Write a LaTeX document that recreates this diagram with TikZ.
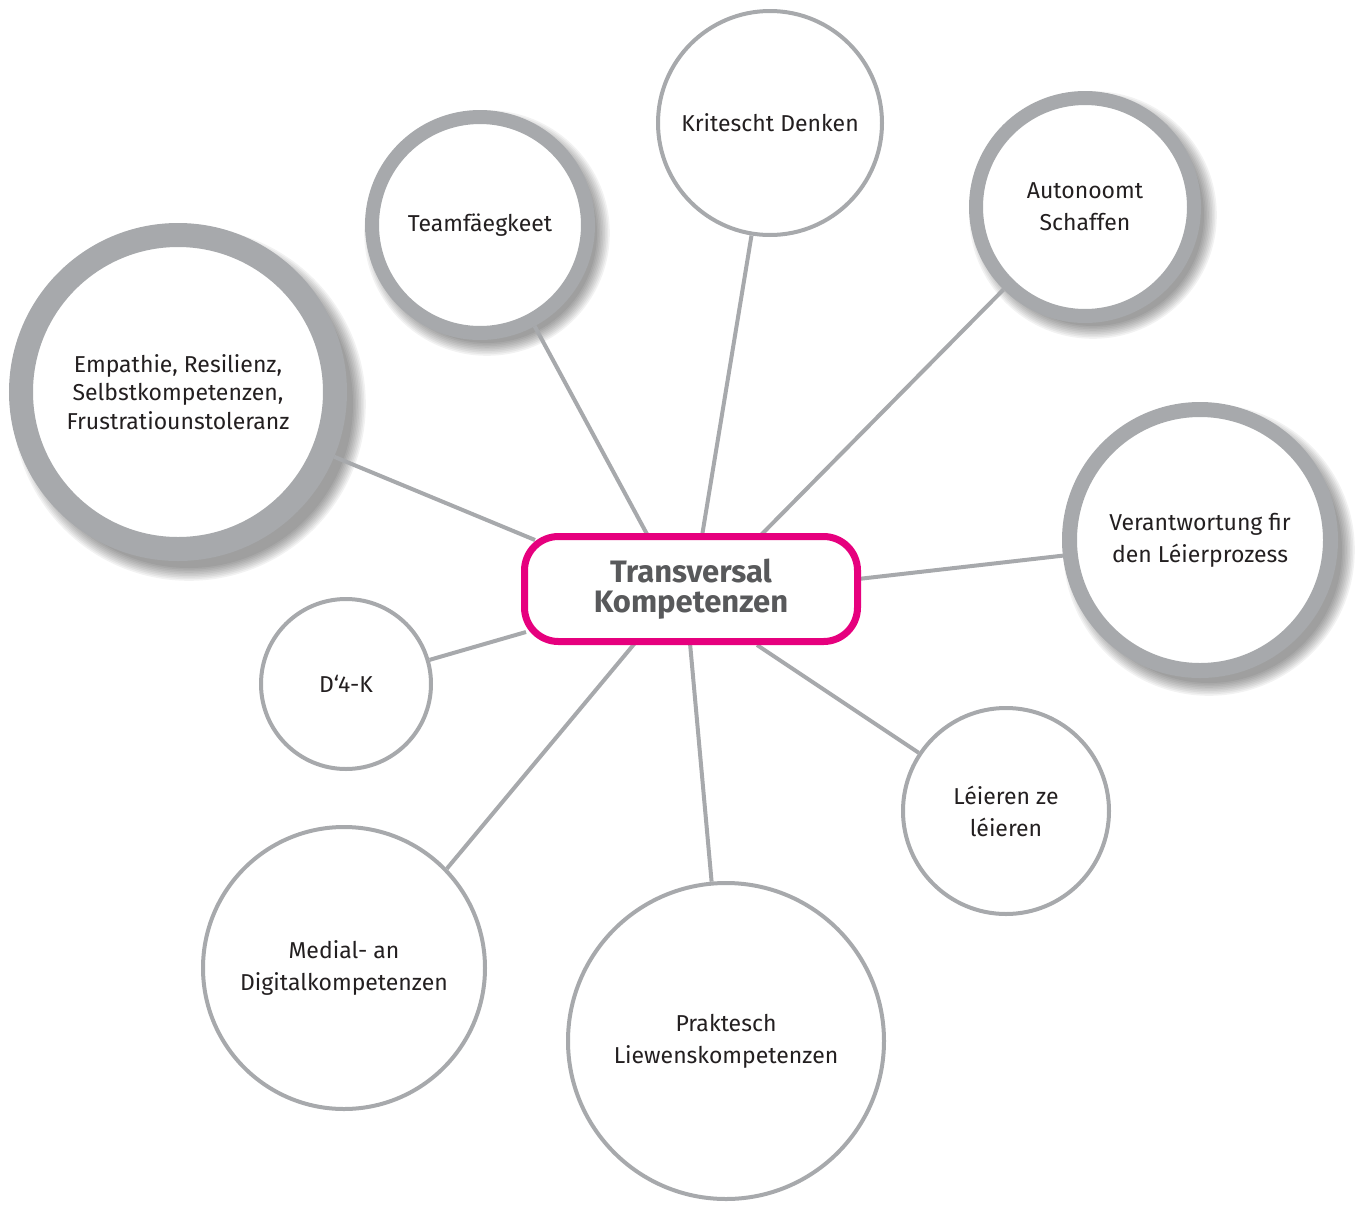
\documentclass[tikz,border=0pt]{standalone}
\usepackage{fontspec}
\setmainfont{Fira Sans}
\definecolor{ringgray}{HTML}{A7A9AC}
\definecolor{magenta}{HTML}{E6007E}
\definecolor{titlegray}{HTML}{58595B}
\definecolor{txt}{HTML}{231F20}
\pgfdeclarelayer{shadowlayer}
\pgfdeclarelayer{linelayer}
\pgfsetlayers{shadowlayer,linelayer,main}
\tikzset{
  thincirc/.style={circle, draw=ringgray, fill=white, line width=4pt, inner sep=0pt,
    align=center, text=txt, font=\fontsize{23}{32}\selectfont},
  thickcirc/.style={circle, draw=ringgray, fill=white, inner sep=0pt,
    align=center, text=txt, font=\fontsize{23}{32}\selectfont},
  centerbox/.style={rectangle, rounded corners=34pt, draw=magenta, fill=white, line width=7pt,
    minimum width=333pt, minimum height=105pt, align=center, text=titlegray,
    font=\fontsize{31}{30}\selectfont\bfseries},
  conn/.style={draw=ringgray, line width=4pt}
}
\newcommand\softshadow[3]{%
  \begin{pgfonlayer}{shadowlayer}
  \foreach \k in {0,...,8}{\fill[black, opacity=0.05] (#1,#2) circle[radius={(#3-5+\k*1.6)*1pt}];}
  \end{pgfonlayer}}
\begin{document}
\begin{tikzpicture}[x=1pt,y=-1pt]
\useasboundingbox (0,0) rectangle (1371,1205);
% shadows
\softshadow{487}{233}{115}
\softshadow{1093}{215}{116}
\softshadow{189}{404}{169}
\softshadow{1209}{550}{138}
% nodes
\node[centerbox] (tk) at (691,589) {Transversal\\Kompetenzen};
\node[thincirc, minimum size=224pt] (krit) at (770,123) {Kritescht Denken};
\node[thickcirc, line width=14pt, minimum size=216pt] (team) at (480,225) {Teamfäegkeet};
\node[thickcirc, line width=14pt, minimum size=218pt] (auto) at (1085,207) {Autonoomt\\Schaffen};
\node[thickcirc, line width=24pt, minimum size=314pt, font=\fontsize{23}{28.5}\selectfont] (emp) at (178,392) {Empathie, Resilienz,\\Selbstkompetenzen,\\Frustratiounstoleranz};
\node[thickcirc, line width=15pt, minimum size=261pt] (ver) at (1200,540) {Verantwortung fir\\den Léierprozess};
\node[thincirc, minimum size=170pt] (d4k) at (346,684) {D‘4-K};
\node[thincirc, minimum size=206pt] (lei) at (1006,811) {Léieren ze\\léieren};
\node[thincirc, minimum size=282pt] (med) at (344,968) {Medial- an\\Digitalkompetenzen};
\node[thincirc, minimum size=316pt] (prak) at (726,1041) {Praktesch\\Liewenskompetenzen};
% connector ends on the box border
\coordinate (pTeam) at (648,536);
\coordinate (pKrit) at (702,536);
\coordinate (pAuto) at (760,536);
\coordinate (pEmp) at (535,540);
\coordinate (pVer) at (858,579);
\coordinate (pD4k) at (526,632);
\coordinate (pMed) at (635,643);
\coordinate (pPrak) at (690,643);
\coordinate (pLei) at (757,645);
\begin{pgfonlayer}{linelayer}
\draw[conn] (team) -- (pTeam);
\draw[conn] (krit) -- (pKrit);
\draw[conn] (auto) -- (pAuto);
\draw[conn] (emp) -- (pEmp);
\draw[conn] (ver) -- (pVer);
\draw[conn] (d4k) -- (pD4k);
\draw[conn] (med.44) -- (pMed);
\draw[conn] (prak) -- (pPrak);
\draw[conn] (lei) -- (pLei);
\end{pgfonlayer}
\end{tikzpicture}
\end{document}
